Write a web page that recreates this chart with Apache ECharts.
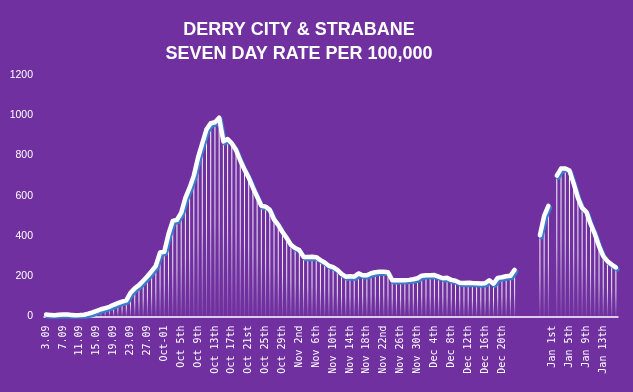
<!DOCTYPE html>
<html>
<head>
<meta charset="utf-8">
<script src="https://cdn.jsdelivr.net/npm/echarts@6/dist/echarts.min.js"></script>
<style>
html,body{margin:0;padding:0;background:#7030A0;}
#chart{width:633px;height:392px;}
</style>
</head>
<body>
<div id="chart"></div>
<script>
// One label every 4 days, starting 3 Sep 2020 (blank over the Christmas gap)
var tickLabels = ['3.09','7.09','11.09','15.09','19.09','23.09','27.09','Oct-01','Oct 5th','Oct 9th',
  'Oct 13th','Oct 17th','Oct 21st','Oct 25th','Oct 29th','Nov 2nd','Nov 6th','Nov 10th','Nov 14th',
  'Nov 18th','Nov 22nd','Nov 26th','Nov 30th','Dec 4th','Dec 8th','Dec 12th','Dec 16th','Dec 20th',
  '','','Jan 1st','Jan 5th','Jan 9th','Jan 13th'];

// Seven day rate per 100,000, daily from 3 Sep 2020 to 16 Jan 2021 (null = no data)
var rate = [
  10,8,6,9,10,10,8,6,7,9,
  14,20,28,36,42,48,58,66,74,80,
  118,140,156,178,200,225,252,318,322,410,
  475,480,515,590,640,700,790,860,930,960,
  965,988,870,882,860,827,775,730,690,640,
  595,550,546,530,482,455,420,390,356,340,
  330,296,296,297,295,280,268,252,245,232,
  212,198,200,198,214,205,205,215,220,222,
  222,220,180,180,180,180,182,185,190,203,
  205,205,206,198,190,192,182,178,168,166,
  168,166,165,164,165,180,163,192,195,200,
  202,232,null,null,null,null,null,404,500,550,
  null,700,735,736,725,660,590,540,520,460,
  410,350,300,275,258,244
];

var categories = [];
var start = new Date(2020, 8, 3);
for (var i = 0; i < rate.length; i++) {
  var d = new Date(start.getTime() + i * 86400000);
  categories.push(d.getFullYear() + '-' + (d.getMonth() + 1) + '-' + d.getDate());
}

var chart = echarts.init(document.getElementById('chart'), null, {renderer: 'canvas'});
chart.setOption({
  backgroundColor: '#7030A0',
  animation: false,
  title: {
    text: 'DERRY CITY & STRABANE\nSEVEN DAY RATE PER 100,000',
    left: 294,
    top: 13,
    textAlign: 'center',
    textStyle: {
      color: '#ffffff',
      fontFamily: 'Liberation Sans',
      fontWeight: 'bold',
      fontSize: 18,
      lineHeight: 24
    }
  },
  grid: {left: 44, right: 15, top: 75, bottom: 75.5, containLabel: false},
  xAxis: {
    type: 'category',
    data: categories,
    boundaryGap: true,
    axisLine: {show: true, lineStyle: {color: '#ffffff', width: 1.5}},
    axisTick: {show: false},
    axisLabel: {
      interval: 3,
      rotate: 90,
      margin: 9,
      color: '#ffffff',
      fontFamily: 'DejaVu Sans Mono',
      fontSize: 10,
      formatter: function (v, idx) { return idx % 4 === 0 ? (tickLabels[idx / 4] || '') : ''; }
    },
    splitLine: {show: false}
  },
  yAxis: {
    type: 'value',
    min: 0, max: 1200, interval: 200,
    axisLine: {show: false},
    axisTick: {show: false},
    splitLine: {show: false},
    axisLabel: {
      color: '#ffffff', fontFamily: 'Liberation Sans', fontSize: 10.5, margin: 11,
      formatter: function (v) { return String(v); }
    }
  },
  series: [
    {
      type: 'bar',
      data: rate,
      barWidth: 1,
      itemStyle: {
        color: new echarts.graphic.LinearGradient(0, 0, 0, 1, [
          {offset: 0, color: 'rgba(255,255,255,1)'},
          {offset: 0.5, color: 'rgba(255,255,255,0.85)'},
          {offset: 1, color: 'rgba(255,255,255,0.08)'}
        ])
      },
      z: 2
    },
    {
      type: 'line',
      data: rate,
      connectNulls: false,
      symbol: 'none',
      lineStyle: {
        color: '#ffffff',
        width: 4.5,
        cap: 'round',
        join: 'round',
        shadowColor: '#3d7cc9',
        shadowOffsetX: 1.5,
        shadowOffsetY: 2,
        shadowBlur: 0
      },
      z: 3
    }
  ]
});
</script>
</body>
</html>
